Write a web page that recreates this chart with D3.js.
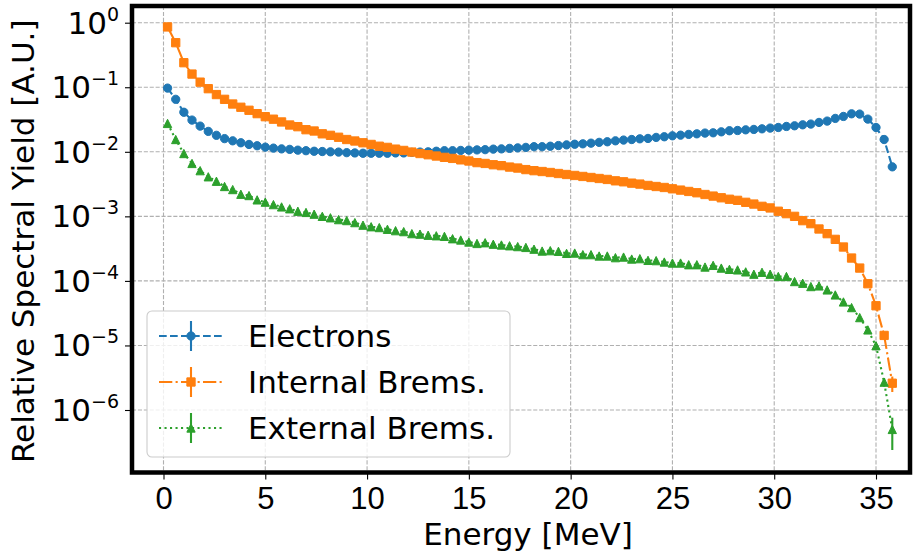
<!DOCTYPE html>
<html lang="en">
<head>
<meta charset="UTF-8">
<title>Relative Spectral Yield</title>
<script src="https://cdn.jsdelivr.net/npm/d3@7"></script>
<style>
  body { margin: 0; background: #fff; }
  svg { display: block; font-family: "DejaVu Sans", sans-serif; }
</style>
</head>
<body>
<svg id="chart" width="920" height="552"></svg>
<script>
// bin centres [MeV]
const energy = [
  0.2, 0.6, 1.0, 1.4, 1.8, 2.2, 2.6, 3.0, 3.4, 3.8,
  4.2, 4.6, 5.0, 5.4, 5.8, 6.2, 6.6, 7.0, 7.4, 7.8,
  8.2, 8.6, 9.0, 9.4, 9.8, 10.2, 10.6, 11.0, 11.4, 11.8,
  12.2, 12.6, 13.0, 13.4, 13.8, 14.2, 14.6, 15.0, 15.4, 15.8,
  16.2, 16.6, 17.0, 17.4, 17.8, 18.2, 18.6, 19.0, 19.4, 19.8,
  20.2, 20.6, 21.0, 21.4, 21.8, 22.2, 22.6, 23.0, 23.4, 23.8,
  24.2, 24.6, 25.0, 25.4, 25.8, 26.2, 26.6, 27.0, 27.4, 27.8,
  28.2, 28.6, 29.0, 29.4, 29.8, 30.2, 30.6, 31.0, 31.4, 31.8,
  32.2, 32.6, 33.0, 33.4, 33.8, 34.2, 34.6, 35.0, 35.4, 35.8
];

const electrons = [
  0.097, 0.065, 0.041, 0.031, 0.025, 0.0207, 0.018, 0.016, 0.0148, 0.0138,
  0.013, 0.0124, 0.0118, 0.0114, 0.0111, 0.0109, 0.0106, 0.0104, 0.0102, 0.0101,
  0.0100, 0.0099, 0.0097, 0.0096, 0.0095, 0.0095, 0.0095, 0.0095, 0.0096, 0.0096,
  0.0098, 0.0099, 0.0100, 0.0102, 0.0104, 0.0104, 0.0105, 0.0106, 0.0107, 0.0108,
  0.0110, 0.0111, 0.0113, 0.0115, 0.0117, 0.0120, 0.0120, 0.0122, 0.0125, 0.0128,
  0.0131, 0.0133, 0.0136, 0.0140, 0.0143, 0.0148, 0.0152, 0.0155, 0.0159, 0.0161,
  0.0167, 0.0171, 0.0177, 0.0181, 0.0186, 0.0190, 0.0195, 0.0197, 0.0204, 0.0212,
  0.0214, 0.0219, 0.0222, 0.0227, 0.0233, 0.0238, 0.0247, 0.0253, 0.0262, 0.0269,
  0.0285, 0.0299, 0.0329, 0.0353, 0.0388, 0.0384, 0.0321, 0.0238, 0.0155, 0.00585
];

const internalBrems = [
  0.86, 0.49, 0.24, 0.16, 0.12, 0.095, 0.077, 0.065, 0.055, 0.049,
  0.044, 0.039, 0.035, 0.032, 0.029, 0.026, 0.0245, 0.022, 0.021, 0.019,
  0.018, 0.0168, 0.0155, 0.0147, 0.0138, 0.0130, 0.0122, 0.0117, 0.0110, 0.0105,
  0.0099, 0.0094, 0.0090, 0.0086, 0.0082, 0.0079, 0.0075, 0.0072, 0.0068, 0.0066,
  0.0063, 0.0061, 0.0058, 0.0056, 0.0053, 0.0051, 0.00495, 0.00478, 0.00461, 0.00445,
  0.0043, 0.00415, 0.0040, 0.00386, 0.00373, 0.00355, 0.00343, 0.00327, 0.00316, 0.00301,
  0.0029, 0.0028, 0.00267, 0.00255, 0.00243, 0.00232, 0.00218, 0.00206, 0.00194, 0.00184,
  0.00177, 0.00165, 0.00155, 0.00143, 0.00135, 0.0012, 0.0011, 0.0010, 0.000857, 0.00077,
  0.000637, 0.000539, 0.00044, 0.000335, 0.000226, 0.000158, 0.0000904, 0.0000412, 0.0000143, 0.0000026
];

const externalBrems = [
  0.0275, 0.0155, 0.0094, 0.0066, 0.0051, 0.0041, 0.0035, 0.0029, 0.0026, 0.0022,
  0.0021, 0.0018, 0.00166, 0.00152, 0.0014, 0.00131, 0.0012, 0.00115, 0.00108, 0.0010,
  0.00095, 0.00089, 0.00086, 0.00080, 0.00073, 0.00069, 0.00067, 0.00063, 0.00060, 0.00058,
  0.00054, 0.00053, 0.00051, 0.00050, 0.00049, 0.00045, 0.00043, 0.00040, 0.00038, 0.00039,
  0.00037, 0.00036, 0.00035, 0.00034, 0.00033, 0.00031, 0.00029, 0.000294, 0.000287, 0.000267,
  0.00027, 0.000255, 0.000255, 0.000243, 0.000243, 0.000229, 0.000234, 0.000218, 0.000221, 0.000208,
  0.000206, 0.000196, 0.000189, 0.000189, 0.000178, 0.000178, 0.000164, 0.000174, 0.000158, 0.000151,
  0.000148, 0.000138, 0.000127, 0.000136, 0.000127, 0.000117, 0.000117, 0.0000977, 0.000092, 0.0000817,
  0.0000836, 0.0000725, 0.0000606, 0.0000472, 0.0000386, 0.000027, 0.0000174, 0.0000099, 0.0000027, 0.0000005
];

// only the error bars large enough to be seen: [bin index, sigma]
const internalErr = [[89, 7e-7]];
const externalErr = [[88, 4e-7], [89, 2.6e-7]];

const xTicks = [0, 5, 10, 15, 20, 25, 30, 35];
const yExponents = [0, -1, -2, -3, -4, -5, -6];

const series = [
  { name: "Electrons", values: electrons, err: [], color: "#1f77b4", dash: "7.7,3.3", marker: "circle" },
  { name: "Internal Brems.", values: internalBrems, err: internalErr, color: "#ff7f0e", dash: "13.3,3.3,2.1,3.3", marker: "square" },
  { name: "External Brems.", values: externalBrems, err: externalErr, color: "#2ca02c", dash: "2.1,3.4", marker: "triangle" }
];

const L = 132, R = 910, T = 6, B = 472.5;
const FS = 31;
const svg = d3.select("#chart");

// x(0) sits at 163.5 px and x(35) at 876 px
const pxPerMeV = (876 - 163.5) / 35;
const x = d3.scaleLinear()
  .domain([(L - 163.5) / pxPerMeV, (R - 163.5) / pxPerMeV])
  .range([L, R]);
// 10^0 at 22.7 px, 10^-6 at 410 px
const pxPerDecade = (410 - 22.7) / 6;
const y = d3.scaleLog()
  .domain([Math.pow(10, -(B - 22.7) / pxPerDecade), Math.pow(10, (22.7 - T) / pxPerDecade)])
  .range([B, T]);

// grid
const grid = svg.append("g").attr("stroke", "#b0b0b0").attr("stroke-width", 1.1).attr("stroke-dasharray", "4.1,1.8");
grid.selectAll(".gx").data(xTicks).join("line")
  .attr("x1", d => x(d)).attr("x2", d => x(d)).attr("y1", T).attr("y2", B);
grid.selectAll(".gy").data(yExponents).join("line")
  .attr("x1", L).attr("x2", R).attr("y1", d => y(Math.pow(10, d))).attr("y2", d => y(Math.pow(10, d)));

function markerPath(type, s) {
  const h = s / 2;
  if (type === "circle") return d3.symbol(d3.symbolCircle, Math.PI * h * h)();
  if (type === "square") return `M${-h},${-h}H${h}V${h}H${-h}Z`;
  return `M0,${-h}L${h},${h}L${-h},${h}Z`;
}

const plot = svg.append("g");
series.forEach(s => {
  const pts = energy.map((e, i) => ({ e: e, v: s.values[i] }));
  const g = plot.append("g");
  g.append("path")
    .attr("d", d3.line().x(d => x(d.e)).y(d => y(d.v))(pts))
    .attr("fill", "none").attr("stroke", s.color)
    .attr("stroke-width", 2.1).attr("stroke-dasharray", s.dash);
  g.selectAll(".err").data(s.err).join("line")
    .attr("x1", d => x(energy[d[0]])).attr("x2", d => x(energy[d[0]]))
    .attr("y1", d => y(s.values[d[0]] + d[1]))
    .attr("y2", d => y(Math.max(s.values[d[0]] - d[1], 1e-9)))
    .attr("stroke", s.color).attr("stroke-width", 2.1);
  g.selectAll(".mk").data(pts).join("path")
    .attr("d", markerPath(s.marker, 8.3))
    .attr("transform", d => `translate(${x(d.e)},${y(d.v)})`)
    .attr("fill", s.color).attr("stroke", s.color).attr("stroke-width", 1);
});

// axes (tick marks from d3, labels styled afterwards)
const xAxis = svg.append("g").attr("transform", `translate(0,${B})`)
  .call(d3.axisBottom(x).tickValues(xTicks).tickSize(7).tickPadding(7).tickFormat(d3.format("d")));
xAxis.select(".domain").remove();
xAxis.selectAll("line").attr("stroke", "#000").attr("stroke-width", 1.1);
xAxis.selectAll("text").attr("font-size", FS).attr("fill", "#000")
  .attr("dy", null).attr("y", 36);

const yAxis = svg.append("g").attr("transform", `translate(${L},0)`)
  .call(d3.axisLeft(y).tickValues(yExponents.map(e => Math.pow(10, e))).tickSize(7).tickFormat(""));
yAxis.select(".domain").remove();
yAxis.selectAll("line").attr("stroke", "#000").attr("stroke-width", 1.1);

const yl = svg.append("g").attr("font-size", FS).attr("fill", "#000");
yExponents.forEach(e => {
  const t = yl.append("text").attr("x", 119).attr("y", y(Math.pow(10, e)) + 11).attr("text-anchor", "end");
  t.append("tspan").text("10");
  t.append("tspan").attr("font-size", 19).attr("dy", -13).text(e === 0 ? "0" : "\u2212" + (-e));
});

// frame
svg.append("rect").attr("x", L).attr("y", T).attr("width", R - L).attr("height", B - T)
  .attr("fill", "none").attr("stroke", "#000").attr("stroke-width", 4.5);

// axis titles
svg.append("text").attr("x", 528).attr("y", 545).attr("text-anchor", "middle")
  .attr("font-size", FS).text("Energy [MeV]");
svg.append("text").attr("transform", `translate(34,${(T + B) / 2 + 2}) rotate(-90)`)
  .attr("text-anchor", "middle").attr("font-size", FS).text("Relative Spectral Yield [A.U.]");

// legend
const lg = svg.append("g");
lg.append("rect").attr("x", 147).attr("y", 311).attr("width", 363).attr("height", 146).attr("rx", 5)
  .attr("fill", "#fff").attr("fill-opacity", 0.8).attr("stroke", "#cccccc").attr("stroke-width", 1.1);
series.forEach((s, i) => {
  const cy = 336 + i * 46;
  lg.append("line").attr("x1", 159).attr("x2", 223).attr("y1", cy).attr("y2", cy)
    .attr("stroke", s.color).attr("stroke-width", 2.1).attr("stroke-dasharray", s.dash);
  lg.append("line").attr("x1", 191).attr("x2", 191).attr("y1", cy - 15).attr("y2", cy + 15)
    .attr("stroke", s.color).attr("stroke-width", 2.1);
  lg.append("path").attr("d", markerPath(s.marker, 8.3)).attr("transform", `translate(191,${cy})`)
    .attr("fill", s.color).attr("stroke", s.color).attr("stroke-width", 1);
  lg.append("text").attr("x", 248).attr("y", cy + 11).attr("font-size", FS).text(s.name);
});
</script>
</body>
</html>
